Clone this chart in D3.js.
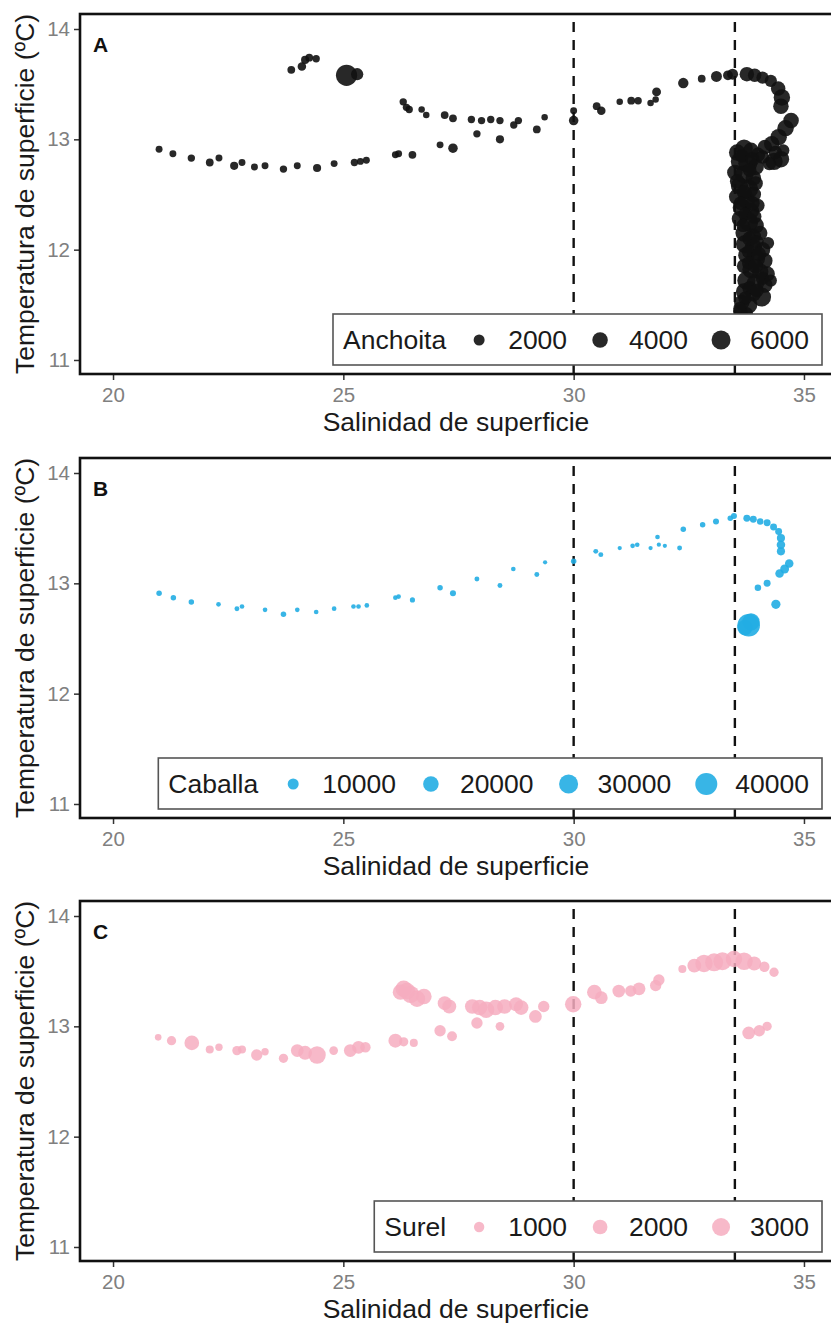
<!DOCTYPE html>
<html><head><meta charset="utf-8">
<script src="https://cdn.jsdelivr.net/npm/d3@7"></script>
<style>body{margin:0;background:#fff}svg{display:block}</style>
</head><body>
<script>
// ---------- data ----------
const xTicks = [20, 25, 30, 35];
const yTicks = [11, 12, 13, 14];
const refLines = [30, 33.5];
const xTitle = "Salinidad de superficie";
const yTitle = "Temperatura de superficie (ºC)";

// [salinidad, temperatura, abundancia]
const anchoita = [
 [21.0,12.91,800],[21.3,12.87,800],[21.7,12.83,900],[22.1,12.79,1000],[22.3,12.83,800],[22.63,12.76,1100],[22.8,12.79,800],
 [23.07,12.75,800],[23.3,12.76,800],[23.7,12.73,900],[24.0,12.76,800],[24.43,12.74,1100],[24.8,12.78,800],[25.24,12.79,900],
 [25.37,12.8,800],[25.5,12.81,800],[26.13,12.86,800],[26.2,12.87,800],[26.5,12.86,1000],[27.1,12.95,800],[27.38,12.92,1500],
 [23.87,13.63,1000],[24.1,13.66,1200],[24.17,13.72,1100],[24.26,13.74,1000],[24.41,13.73,900],[25.07,13.58,7500],[25.3,13.59,2500],
 [26.3,13.34,900],[26.37,13.29,900],[26.43,13.27,900],[26.7,13.27,700],[26.8,13.22,700],[27.2,13.22,1000],[27.38,13.19,1000],
 [27.78,13.18,900],[28.0,13.17,900],[28.2,13.18,900],[28.4,13.17,900],[27.9,13.05,900],[28.4,13.0,1100],[28.7,13.13,900],
 [28.8,13.17,900],[29.2,13.09,1000],[29.37,13.2,700],[30.0,13.26,800],[30.0,13.17,1500],[30.5,13.3,1000],[30.6,13.26,1200],
 [31.0,13.34,700],[31.25,13.35,1000],[31.4,13.35,900],[31.67,13.33,700],[31.78,13.36,700],[31.8,13.43,1300],[32.38,13.51,1800],
 [32.78,13.55,1000],[33.1,13.57,2000],[33.35,13.58,1600],[33.45,13.59,2000],
 [33.76,13.59,3500],[33.93,13.58,3000],[34.1,13.56,2500],[34.28,13.53,2500],[34.44,13.46,3500],[34.52,13.38,4500],[34.5,13.3,4000],
 [34.72,13.17,4000],[34.6,13.1,4500],[34.45,13.02,4500],[34.3,12.96,4000],[34.15,12.93,3500],
 [33.55,12.88,4500],[33.7,12.92,5000],[33.85,12.9,4000],[34.0,12.86,3500],[33.6,12.8,5000],[33.78,12.78,6000],[33.95,12.75,4500],
 [34.35,12.8,5000],[34.5,12.82,4500],[34.25,12.78,3000],[33.5,12.7,4000],[33.7,12.68,5500],[33.9,12.65,4000],[33.6,12.58,5000],
 [33.8,12.55,6000],[33.95,12.6,3500],[33.55,12.48,4500],[33.75,12.45,5000],[33.9,12.5,4000],[33.65,12.38,5500],[33.85,12.35,4500],
 [34.0,12.4,3000],[33.6,12.28,4000],[33.8,12.25,6000],[33.95,12.22,4500],[33.7,12.15,5000],[33.9,12.12,4000],[34.05,12.15,3500],
 [33.72,12.05,5500],[33.9,12.02,5000],[34.1,12.0,4000],[33.75,11.95,4500],[33.95,11.92,6000],[34.15,11.9,4000],[33.7,11.85,3500],
 [33.85,11.82,5000],[34.05,11.8,4500],[34.2,11.78,4000],[33.75,11.72,5500],[33.95,11.7,5000],[34.15,11.68,4000],[33.7,11.62,4500],
 [33.9,11.6,4000],[34.08,11.57,6000],[33.65,11.52,4000],[33.8,11.5,5000],[33.62,11.44,3500],[33.75,11.42,3000],
 [33.65,12.85,3000],[33.88,12.82,3500],[34.1,12.84,3000],[33.55,12.62,3500],[33.82,12.72,3000],[33.7,12.52,3500],[33.62,12.42,3000],
 [33.88,12.42,3500],[33.72,12.32,3000],[33.92,12.3,3500],[33.68,12.22,3000],[33.82,12.1,3500],[33.98,12.07,3000],[33.8,11.98,3000],
 [34.02,11.96,3500],[33.8,11.88,3000],[33.95,11.85,3500],[34.1,11.74,3000],[33.82,11.65,3500],[33.98,11.63,3000],[33.72,11.56,3000],
 [33.6,11.47,2500],[33.7,11.38,2500],[34.22,12.06,2500],[34.28,11.72,2500],[34.38,12.88,3000],[34.55,12.9,2500]
];
const caballa = [
 [21.0,12.91,2500],[21.31,12.87,2500],[21.7,12.83,2500],[22.29,12.81,1800],[22.69,12.77,2000],[22.8,12.79,1800],[23.3,12.76,1800],
 [23.7,12.72,2500],[24.0,12.76,1800],[24.41,12.74,1800],[24.8,12.77,1800],[25.22,12.79,1800],[25.33,12.79,1800],[25.51,12.8,1800],
 [26.13,12.87,1800],[26.2,12.88,1800],[26.5,12.85,2200],[27.1,12.96,2500],[27.38,12.91,3000],[27.9,13.04,2000],[28.4,12.98,2000],
 [28.69,13.13,1800],[29.2,13.08,2000],[29.38,13.19,1500],[30.0,13.2,2500],[30.48,13.29,2000],[30.59,13.26,2000],[31.0,13.32,1500],
 [31.28,13.34,1800],[31.38,13.35,1800],[31.67,13.32,1500],[31.82,13.42,1800],[31.85,13.35,1500],[31.98,13.34,1500],[32.3,13.32,2000],
 [32.38,13.49,2500],[32.8,13.53,2500],[33.09,13.56,3000],[33.4,13.59,2500],[33.48,13.61,3000],[33.76,13.59,4000],[33.9,13.58,4000],
 [34.05,13.56,3500],[34.2,13.55,4000],[34.34,13.51,4000],[34.45,13.47,4000],[34.5,13.41,5500],[34.5,13.35,6000],[34.5,13.29,5500],
 [34.68,13.18,6000],[34.58,13.13,6500],[34.47,13.09,6000],[34.2,13.0,4000],[34.0,12.96,3500],[34.39,12.81,7000],
 [33.72,12.6,20000],[33.85,12.65,25000],[33.8,12.62,42000]
];
const surel = [
 [20.98,12.9,400],[21.27,12.87,800],[21.71,12.85,2000],[22.1,12.79,600],[22.3,12.81,500],[22.69,12.78,800],[22.8,12.79,600],
 [23.12,12.74,1200],[23.3,12.77,500],[23.7,12.71,800],[24.0,12.78,1500],[24.17,12.76,1800],[24.43,12.74,2800],[24.79,12.78,700],
 [25.15,12.78,1500],[25.33,12.81,1500],[25.48,12.81,1000],[26.13,12.87,1800],[26.31,12.86,800],[26.53,12.85,600],[27.1,12.96,1200],
 [27.36,12.91,900],
 [26.31,13.34,2500],[26.46,13.29,2800],[26.6,13.25,2500],[26.24,13.31,2200],[26.38,13.32,2500],[26.75,13.27,2200],[27.2,13.21,1800],
 [27.3,13.18,1800],[27.8,13.18,2000],[27.96,13.17,2200],[28.1,13.15,2500],[28.3,13.17,2200],[28.5,13.18,2000],[28.75,13.2,1800],
 [28.86,13.17,2000],[27.9,13.03,1200],[28.4,13.0,700],[29.17,13.09,1500],[29.35,13.18,1200],[29.99,13.2,2500],[30.45,13.31,2000],
 [30.6,13.26,1500],[30.98,13.32,1500],[31.24,13.32,1200],[31.42,13.34,1500],[31.78,13.37,1200],[31.85,13.42,1200],[32.36,13.52,600],
 [32.62,13.55,1800],[32.83,13.57,2800],[33.05,13.58,3000],[33.23,13.59,3000],[33.48,13.61,2500],[33.7,13.59,2800],[33.92,13.57,1800],
 [34.14,13.54,1000],[34.35,13.49,800],[33.8,12.94,1500],[34.03,12.96,1200],[34.2,13.0,800]
];
const anchoitaBreaks = [2000, 4000, 6000];
const caballaBreaks = [10000, 20000, 30000, 40000];
const surelBreaks = [1000, 2000, 3000];

// ---------- layout ----------
const W = 831, H = 1323;
const font = "'Liberation Sans', Arial, sans-serif";
const svg = d3.select("body").append("svg").attr("width", W).attr("height", H);
svg.append("rect").attr("width", W).attr("height", H).attr("fill", "#fff");

const panels = [
  {id:"A", top:14,  data:anchoita, name:"Anchoita", breaks:anchoitaBreaks, maxV:6000,  rMax:9.5, fill:"#111", op:0.9,  gap:33},
  {id:"B", top:458, data:caballa,  name:"Caballa",  breaks:caballaBreaks,  maxV:40000, rMax:11,  fill:"#22ade3", op:0.9, gap:35},
  {id:"C", top:901, data:surel,    name:"Surel",    breaks:surelBreaks,    maxV:3000,  rMax:9,   fill:"#f6adbf", op:0.85, gap:33}
];
const pLeft = 80, pRight = 834, pH = 360;
const fs = 26.5;
const x = d3.scaleLinear().domain([19.283, 35.652]).range([pLeft, pRight]);

panels.forEach((p, i) => {
  const top = p.top, bottom = top + pH;
  const y = d3.scaleLinear().domain([10.873, 14.136]).range([bottom, top]);
  const r = d3.scaleSqrt().domain([0, p.maxV]).range([0, p.rMax]);
  const g = svg.append("g");
  const clipId = "clip" + i;
  g.append("clipPath").attr("id", clipId).append("rect")
    .attr("x", pLeft).attr("y", top).attr("width", pRight - pLeft).attr("height", pH);

  // dashed reference lines
  g.append("g").selectAll("line").data(refLines).join("line")
    .attr("x1", d => x(d)).attr("x2", d => x(d))
    .attr("y1", top + 8).attr("y2", bottom)
    .attr("stroke", "#111").attr("stroke-width", 2.4).attr("stroke-dasharray", "10,8");

  // points
  g.append("g").attr("clip-path", `url(#${clipId})`)
    .selectAll("circle").data(p.data).join("circle")
    .attr("cx", d => x(d[0])).attr("cy", d => y(d[1])).attr("r", d => r(d[2]))
    .attr("fill", p.fill).attr("fill-opacity", p.op);

  // panel label
  g.append("text").attr("x", 93).attr("y", top + 38).text(p.id)
    .attr("font-family", font).attr("font-weight", "bold").attr("font-size", 21).attr("fill", "#111");

  // legend
  const lg = g.append("g");
  const cy = bottom - 34;
  const title = lg.append("text").attr("x", 10).attr("y", cy + 9).text(p.name)
    .attr("font-family", font).attr("font-size", fs).attr("fill", "#1a1a1a");
  let cur = 10 + title.node().getComputedTextLength();
  const items = [];
  p.breaks.forEach(b => {
    const kc = cur + p.gap;
    const t = lg.append("text").attr("x", kc + 29).attr("y", cy + 9).text(b)
      .attr("font-family", font).attr("font-size", fs).attr("fill", "#1a1a1a");
    items.push({b, kc});
    cur = kc + 29 + t.node().getComputedTextLength();
  });
  const boxRight = 822, totalW = cur + 13;
  const boxLeft = boxRight - totalW;
  lg.insert("rect", ":first-child").attr("x", 0).attr("y", cy - 26).attr("width", totalW).attr("height", 51)
    .attr("fill", "#fff").attr("stroke", "#555").attr("stroke-width", 1.6);
  lg.selectAll("circle").data(items).join("circle")
    .attr("cx", d => d.kc).attr("cy", cy).attr("r", d => r(d.b))
    .attr("fill", p.fill).attr("fill-opacity", p.op);
  lg.attr("transform", `translate(${boxLeft},0)`);

  // axes
  const ax = g.append("g").attr("transform", `translate(0,${bottom})`)
    .call(d3.axisBottom(x).tickValues(xTicks).tickFormat(d3.format("d")).tickSize(6).tickPadding(7).tickSizeOuter(0));
  ax.select(".domain").remove();
  ax.selectAll("line").attr("stroke", "#333").attr("stroke-width", 1.5);
  ax.selectAll("text").attr("font-family", font).attr("font-size", 20.5).attr("fill", "#808080");

  const ay = g.append("g").attr("transform", `translate(${pLeft},0)`)
    .call(d3.axisLeft(y).tickValues(yTicks).tickFormat(d3.format("d")).tickSize(6).tickPadding(4).tickSizeOuter(0));
  ay.select(".domain").remove();
  ay.selectAll("line").attr("stroke", "#333").attr("stroke-width", 1.5);
  ay.selectAll("text").attr("font-family", font).attr("font-size", 20.5).attr("fill", "#808080");

  // border
  g.append("rect").attr("x", pLeft).attr("y", top).attr("width", pRight - pLeft).attr("height", pH)
    .attr("fill", "none").attr("stroke", "#111").attr("stroke-width", 2.6);

  // axis titles
  g.append("text").attr("x", 456).attr("y", bottom + 57).attr("text-anchor", "middle").text(xTitle)
    .attr("font-family", font).attr("font-size", fs).attr("fill", "#1a1a1a");
  g.append("text").attr("transform", `translate(34,${(top + bottom) / 2}) rotate(-90)`)
    .attr("text-anchor", "middle").text(yTitle)
    .attr("font-family", font).attr("font-size", fs).attr("fill", "#1a1a1a");
});
</script>
</body></html>
